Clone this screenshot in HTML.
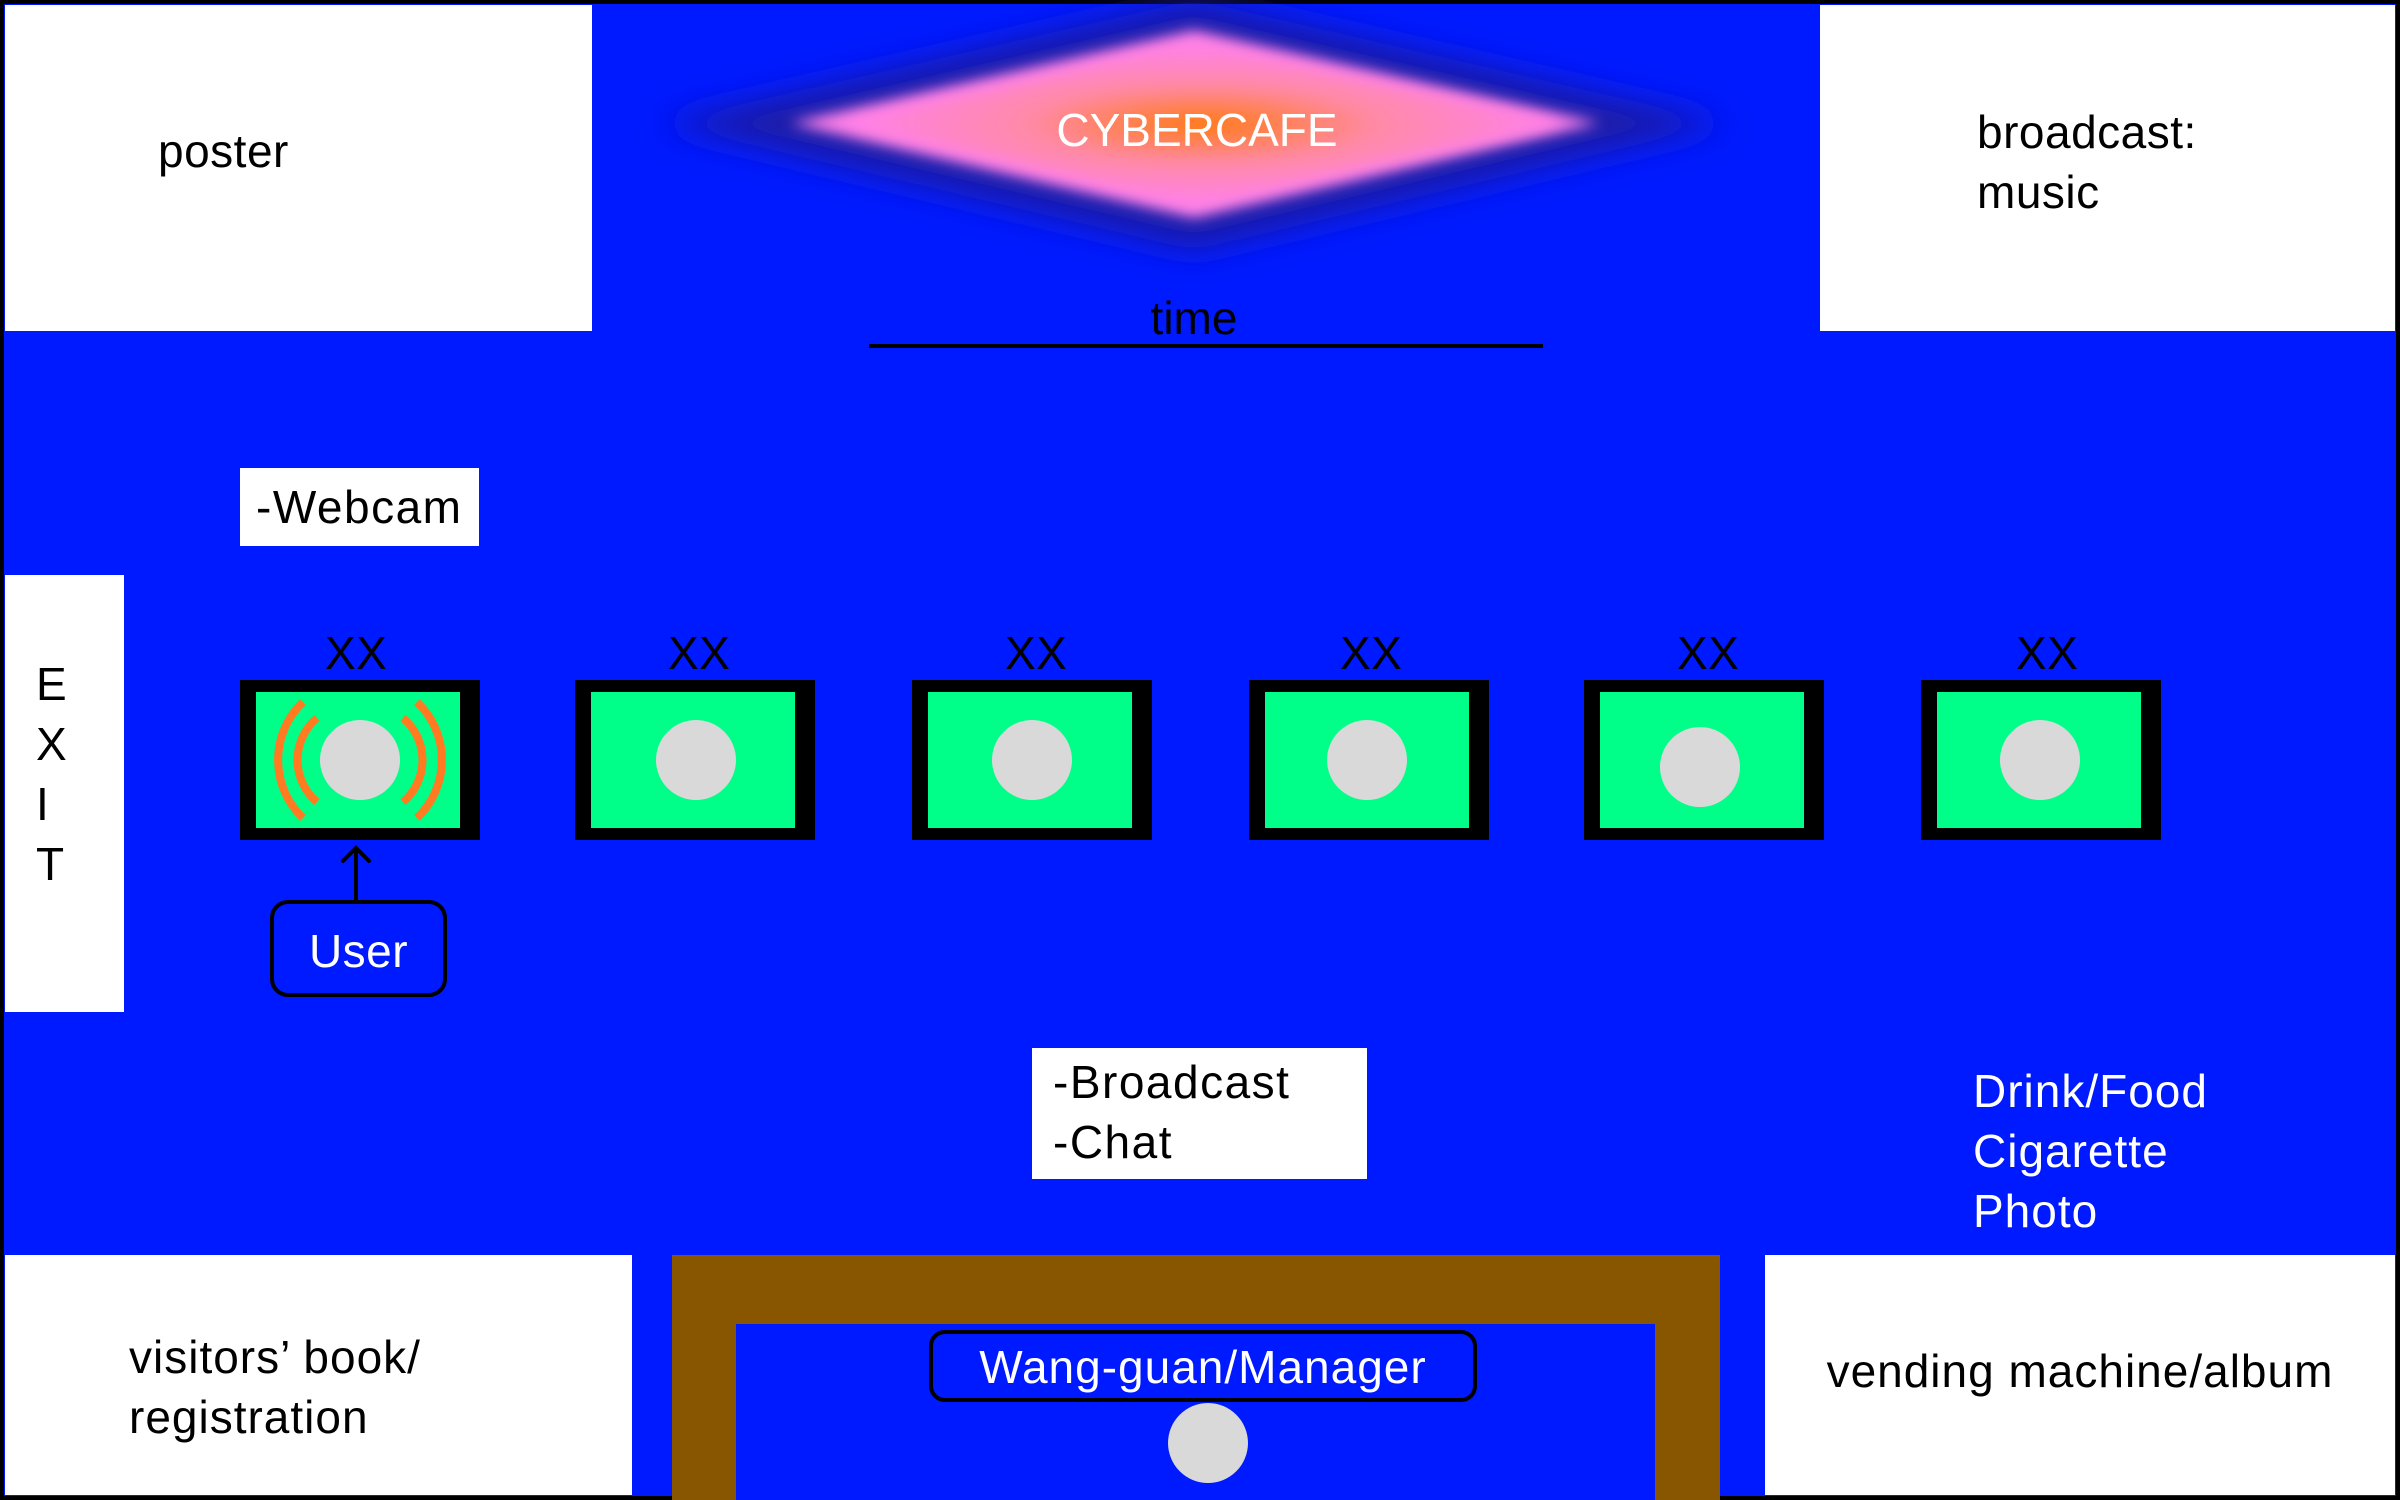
<!DOCTYPE html>
<html><head><meta charset="utf-8"><style>
*{margin:0;padding:0;box-sizing:border-box}
body{width:2400px;height:1500px;background:#000;position:relative;overflow:hidden;font-family:"Liberation Sans",sans-serif}
.a{position:absolute}
.w{background:#fff}
.t{position:absolute;font-size:46px;line-height:1;white-space:nowrap;letter-spacing:0.5px}
.mon{position:absolute;width:240px;height:160px;background:#000}
.mon .g{position:absolute;left:16px;top:12px;width:204px;height:136px;background:#00ff88}
.mon .c{position:absolute;width:80px;height:80px;border-radius:50%;background:#d9d9d9}
</style></head><body>
<div class="a" style="left:4px;top:4px;width:2392px;height:1492px;background:#001aff"></div>
<div class="a w" style="left:5px;top:5px;width:587px;height:326px"></div>
<div class="t" style="left:158px;top:128px">poster</div>
<div class="a w" style="left:1820px;top:5px;width:575px;height:326px"></div>
<div class="t" style="left:1977px;top:102px;line-height:60px">broadcast:<br>music</div>

<svg class="a" style="left:0;top:0" width="2400" height="360">
<defs>
<filter id="b1" x="-20%" y="-50%" width="140%" height="200%"><feGaussianBlur stdDeviation="16"/></filter>
<filter id="b2" x="-20%" y="-50%" width="140%" height="200%"><feGaussianBlur stdDeviation="7"/></filter>
<radialGradient id="rg" cx="0.5" cy="0.5" r="0.5">
<stop offset="0" stop-color="#ff7a10"/><stop offset="0.5" stop-color="#ff8aa8"/><stop offset="1" stop-color="#ff80e8"/></radialGradient>
</defs>
<polygon points="660,123 1194,0 1728,123 1194,250" fill="#1a1aa8" filter="url(#b1)"/>
<polygon points="790,123 1194,30 1600,123 1194,218" fill="#ff80e8" filter="url(#b2)"/>
<polygon points="845,123 1194,44 1560,123 1194,204" fill="url(#rg)" filter="url(#b2)"/>
<text x="1197" y="146" fill="#fff" font-size="46" text-anchor="middle" font-family="Liberation Sans,sans-serif">CYBERCAFE</text>
<text x="1194" y="334" fill="#000" font-size="46" text-anchor="middle" font-family="Liberation Sans,sans-serif">time</text>
<rect x="869" y="344" width="674" height="4" fill="#000"/>
</svg>

<div class="a w" style="left:240px;top:468px;width:239px;height:78px"></div>
<div class="t" style="left:256px;top:484px;letter-spacing:1.5px">-Webcam</div>

<div class="a w" style="left:5px;top:575px;width:119px;height:437px"></div>
<div class="t" style="left:36px;top:654px;line-height:60px">E<br>X<br>I<br>T</div>

<div class="t" style="left:325px;top:630px">XX</div>
<div class="t" style="left:668px;top:630px">XX</div>
<div class="t" style="left:1005px;top:630px">XX</div>
<div class="t" style="left:1340px;top:630px">XX</div>
<div class="t" style="left:1677px;top:630px">XX</div>
<div class="t" style="left:2016px;top:630px">XX</div>

<div class="mon" style="left:240px;top:680px"><div class="g"></div><div class="c" style="left:80px;top:40px"></div>
<svg class="a" style="left:0;top:0" width="240" height="160"><g fill="none" stroke="#ff7a20" stroke-width="8">
<path d="M63,22 A80,80 0 0 0 63,138"/><path d="M77,38 A55,55 0 0 0 77,122"/>
<path d="M177,22 A80,80 0 0 1 177,138"/><path d="M163,38 A55,55 0 0 1 163,122"/></g></svg></div>
<div class="mon" style="left:575px;top:680px"><div class="g"></div><div class="c" style="left:81px;top:40px"></div></div>
<div class="mon" style="left:912px;top:680px"><div class="g"></div><div class="c" style="left:80px;top:40px"></div></div>
<div class="mon" style="left:1249px;top:680px"><div class="g"></div><div class="c" style="left:78px;top:40px"></div></div>
<div class="mon" style="left:1584px;top:680px"><div class="g"></div><div class="c" style="left:76px;top:47px"></div></div>
<div class="mon" style="left:1921px;top:680px"><div class="g"></div><div class="c" style="left:79px;top:40px"></div></div>

<svg class="a" style="left:0;top:0" width="600" height="1010">
<path d="M356,900 V848 M343,861 L356,848 L369,861" stroke="#000" stroke-width="4" fill="none" stroke-linecap="round"/>
</svg>
<div class="a" style="left:270px;top:900px;width:177px;height:97px;border:4px solid #000;border-radius:18px"></div>
<div class="t" style="left:270px;top:928px;width:177px;text-align:center;color:#fff">User</div>

<div class="a w" style="left:1032px;top:1048px;width:335px;height:131px"></div>
<div class="t" style="left:1053px;top:1052px;line-height:60px;letter-spacing:1.5px">-Broadcast<br>-Chat</div>

<div class="t" style="left:1973px;top:1061px;line-height:60px;color:#fff;letter-spacing:1px">Drink/Food<br>Cigarette<br>Photo</div>

<div class="a w" style="left:5px;top:1255px;width:627px;height:240px"></div>
<div class="t" style="left:129px;top:1327px;line-height:60px;letter-spacing:1px">visitors’ book/<br>registration</div>

<div class="a" style="left:672px;top:1255px;width:1048px;height:245px;background:#885500"></div>
<div class="a" style="left:736px;top:1324px;width:919px;height:176px;background:#001aff"></div>
<div class="a" style="left:929px;top:1330px;width:548px;height:72px;border:4px solid #000;border-radius:16px"></div>
<div class="t" style="left:929px;top:1344px;width:548px;text-align:center;color:#fff;letter-spacing:1px">Wang-guan/Manager</div>
<div class="a" style="left:1168px;top:1403px;width:80px;height:80px;border-radius:50%;background:#d9d9d9"></div>

<div class="a w" style="left:1765px;top:1255px;width:630px;height:240px"></div>
<div class="t" style="left:1765px;top:1348px;width:630px;text-align:center;letter-spacing:1px">vending machine/album</div>
</body></html>
